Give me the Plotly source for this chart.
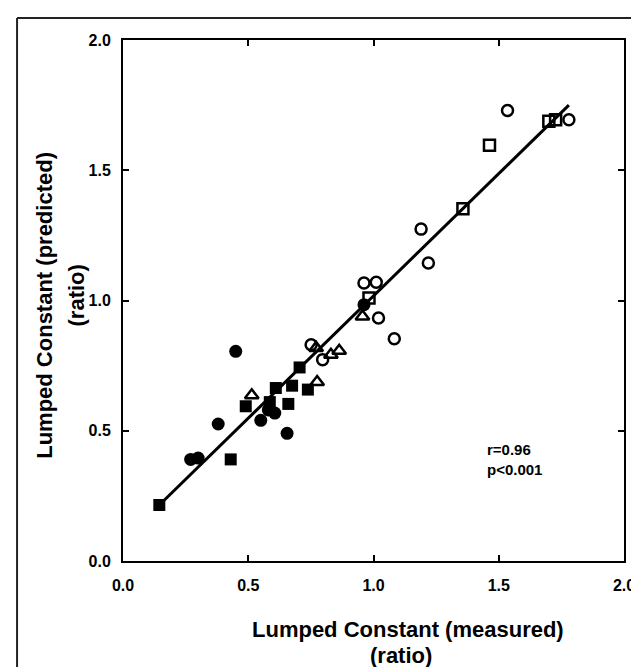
import plotly.graph_objects as go

# ---- data ----
filled_sq_x = [0.145, 0.43, 0.49, 0.586, 0.61, 0.66, 0.675, 0.705, 0.738]
filled_sq_y = [0.215, 0.39, 0.594, 0.61, 0.664, 0.603, 0.673, 0.743, 0.658]

filled_ci_x = [0.27, 0.30, 0.38, 0.45, 0.55, 0.58, 0.606, 0.655, 0.962]
filled_ci_y = [0.39, 0.395, 0.526, 0.805, 0.54, 0.58, 0.568, 0.49, 0.984]

open_tr_x = [0.514, 0.771, 0.775, 0.830, 0.863, 0.956]
open_tr_y = [0.636, 0.818, 0.687, 0.792, 0.807, 0.939]

open_ci_x = [0.751, 0.797, 0.962, 1.011, 1.02, 1.083, 1.19, 1.219, 1.535, 1.78]
open_ci_y = [0.83, 0.773, 1.067, 1.07, 0.933, 0.853, 1.274, 1.144, 1.729, 1.694]

open_sq_x = [0.982, 1.357, 1.463, 1.70, 1.727]
open_sq_y = [1.01, 1.352, 1.596, 1.688, 1.694]

fit_x = [0.145, 1.78]
fit_y = [0.215, 1.75]

tick_vals = [0.0, 0.5, 1.0, 1.5, 2.0]
tick_text = ["0.0", "0.5", "1.0", "1.5", "2.0"]

x_title = "Lumped Constant (measured)"
y_title = "Lumped Constant (predicted)"
unit = "(ratio)"
stats = ["r=0.96", "p<0.001"]

FONT = "Liberation Sans"

fig = go.Figure()

fig.add_trace(go.Scatter(x=fit_x, y=fit_y, mode="lines",
                         line=dict(color="black", width=3), showlegend=False))

def add(xs, ys, symbol, size, lw):
    fig.add_trace(go.Scatter(
        x=xs, y=ys, mode="markers", showlegend=False,
        marker=dict(symbol=symbol, size=size, color="black",
                    line=dict(color="black", width=lw))))

add(filled_sq_x, filled_sq_y, "square", 12, 0)
add(filled_ci_x, filled_ci_y, "circle", 13, 0)
add(open_tr_x, open_tr_y, "triangle-up-open", 12, 2.5)
add(open_ci_x, open_ci_y, "circle-open", 11, 2.5)
add(open_sq_x, open_sq_y, "square-open", 11, 2.5)

axis_common = dict(
    range=[0, 2], tickvals=tick_vals, ticktext=tick_text,
    showline=True, linewidth=2, linecolor="black", mirror="ticks",
    ticks="inside", ticklen=6, tickwidth=2, tickcolor="black",
    showgrid=False, zeroline=False,
    tickfont=dict(family=FONT, size=16, color="black", weight="bold"),
)
fig.update_xaxes(**axis_common, ticklabelstandoff=9)
fig.update_yaxes(**axis_common, ticklabelstandoff=7)

L, R, T, B = 115, 18, 32, 114
W, H = 639, 667
pw, ph = W - L - R, H - T - B

def px(xp):
    return (xp - L) / pw

def py(yp):
    return (H - B - yp) / ph

tfont = dict(family=FONT, size=22, color="black", weight="bold")
sfont = dict(family=FONT, size=15, color="black", weight="bold")

ann = [
    dict(text=x_title, x=px(403), y=py(621), font=tfont),
    dict(text=unit, x=px(396), y=py(647), font=tfont),
    dict(text=y_title, x=px(35), y=py(297), font=tfont, textangle=-90),
    dict(text=unit, x=px(68), y=py(287), font=tfont, textangle=-90),
]
for a in ann:
    a.update(xref="paper", yref="paper", showarrow=False,
             xanchor="center", yanchor="middle")
ann.append(dict(text=stats[0], x=px(481), y=py(441), xref="paper", yref="paper",
                showarrow=False, xanchor="left", yanchor="middle", font=sfont))
ann.append(dict(text=stats[1], x=px(481), y=py(461), xref="paper", yref="paper",
                showarrow=False, xanchor="left", yanchor="middle", font=sfont))

shapes = [
    dict(type="line", xref="paper", yref="paper", x0=px(8), x1=px(639),
         y0=py(10), y1=py(10), line=dict(color="#222", width=2)),
    dict(type="line", xref="paper", yref="paper", x0=px(8), x1=px(8),
         y0=py(10), y1=py(667), line=dict(color="#222", width=2)),
]

fig.update_layout(
    width=W, height=H,
    margin=dict(l=L, r=R, t=T, b=B),
    paper_bgcolor="white", plot_bgcolor="white",
    annotations=ann, shapes=shapes, showlegend=False,
)

fig.write_html("out.html")
